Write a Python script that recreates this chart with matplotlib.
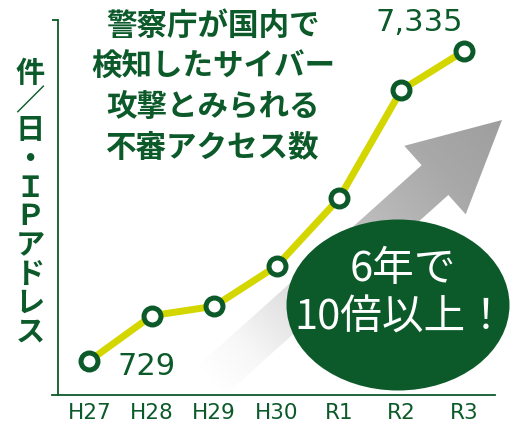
import matplotlib
matplotlib.use('Agg')
import matplotlib.pyplot as plt
import numpy as np
from matplotlib.patches import Polygon, Ellipse

categories = ['H27', 'H28', 'H29', 'H30', 'R1', 'R2', 'R3']
values = [729, 1692, 1893, 2753, 4192, 6506, 7335]
first_label = '729'
last_label = '7,335'
title_lines = ['警察庁が国内で', '検知したサイバー', '攻撃とみられる', '不審アクセス数']
ylabel_chars = ['件', '／', '日', '・', 'Ｉ', 'Ｐ', 'ア', 'ド', 'レ', 'ス']
badge_lines = ['6年で', '10倍以上！']

W, H = 519, 426
GREEN = '#0c5a2a'
YELLOW = '#d4d600'
JP = ['Noto Sans CJK JP', 'DejaVu Sans']

fig = plt.figure(figsize=(W / 100, H / 100), dpi=100)


def fx(x):
    return x / W


def fy(y):
    return 1 - y / H


# background axes in pixel coordinates for the decorative arrow
bg = fig.add_axes([0, 0, 1, 1], zorder=-1)
bg.axis('off')
P = np.array([502.0, 120.0])
T = np.array([212.0, 380.0])
d = P - T
L = np.hypot(*d)
u = d / L
n = np.array([-u[1], u[0]])
head_len, head_half, shaft_half = 90, 46, 20
B = P - head_len * u
pts = [T + shaft_half * n, B + shaft_half * n, B + head_half * n, P,
       B - head_half * n, B - shaft_half * n, T - shaft_half * n]
poly = Polygon(pts, closed=True, facecolor='none', edgecolor='none')
bg.add_patch(poly)
Y, X = np.mgrid[0:H, 0:W] + 0.5
t = ((X - T[0]) * u[0] + (Y - T[1]) * u[1]) / L
g = np.interp(t, [0, 0.12, 0.5, 0.8, 1.0], [1.0, 0.97, 0.76, 0.66, 0.62])
img = np.dstack([g, g, g])
im = bg.imshow(img, extent=(0, W, H, 0), aspect='auto', interpolation='bilinear')
im.set_clip_path(poly)
bg.set_xlim(0, W)
bg.set_ylim(H, 0)

# main chart axes
ax = fig.add_axes([fx(52), fy(395), (495 - 52) / W, (395 - 20) / H], zorder=0)
ax.patch.set_alpha(0)
x = np.arange(len(categories))
ax.plot(x, values, color=YELLOW, lw=5, marker='o', ms=12.2, mfc='white',
        mec=GREEN, mew=3.6, zorder=3, clip_on=False)
ax.set_xlim(-0.6, 6.5)
ax.set_ylim(0, 8000)
for s in ['top', 'right']:
    ax.spines[s].set_visible(False)
ax.spines['left'].set_position(('data', -0.5))
for s in ['left', 'bottom']:
    ax.spines[s].set_color(GREEN)
    ax.spines[s].set_linewidth(1.3)
ax.set_yticks([8000])
ax.set_yticklabels([''])
ax.tick_params(axis='y', length=4.5, width=1.3, color=GREEN, direction='out')
ax.set_xticks(x)
ax.set_xticklabels(categories, fontsize=15.5, color=GREEN)
ax.tick_params(axis='x', length=0, pad=6)

ax.annotate(first_label, (x[0], values[0]), xytext=(57, -6), textcoords='offset pixels',
            ha='center', va='center', fontsize=22, color=GREEN)
ax.annotate(last_label, (x[-1], values[-1]), xytext=(-45, 29), textcoords='offset pixels',
            ha='center', va='center', fontsize=22, color=GREEN)

# title
for i, line in enumerate(title_lines):
    fig.text(fx(213), fy(26 + i * 40.5), line, ha='center', va='center',
             fontsize=22, family=JP, weight='bold', color=GREEN)

# vertical y label
for i, ch in enumerate(ylabel_chars):
    fig.text(fx(30), fy(73 + i * 28.7), ch, ha='center', va='center',
             fontsize=21, family=JP, weight='bold', color=GREEN)

# badge
ell = Ellipse((fx(398), fy(305)), 223 / W, 171 / H, transform=fig.transFigure,
              facecolor=GREEN, edgecolor='none', zorder=5)
fig.add_artist(ell)
fig.text(fx(403), fy(270), badge_lines[0], ha='center', va='center', fontsize=30,
         family=JP, color='white', zorder=6)
fig.text(fx(401), fy(318), badge_lines[1], ha='center', va='center', fontsize=30,
         family=JP, color='white', zorder=6)

fig.savefig('out.png', dpi=100)
